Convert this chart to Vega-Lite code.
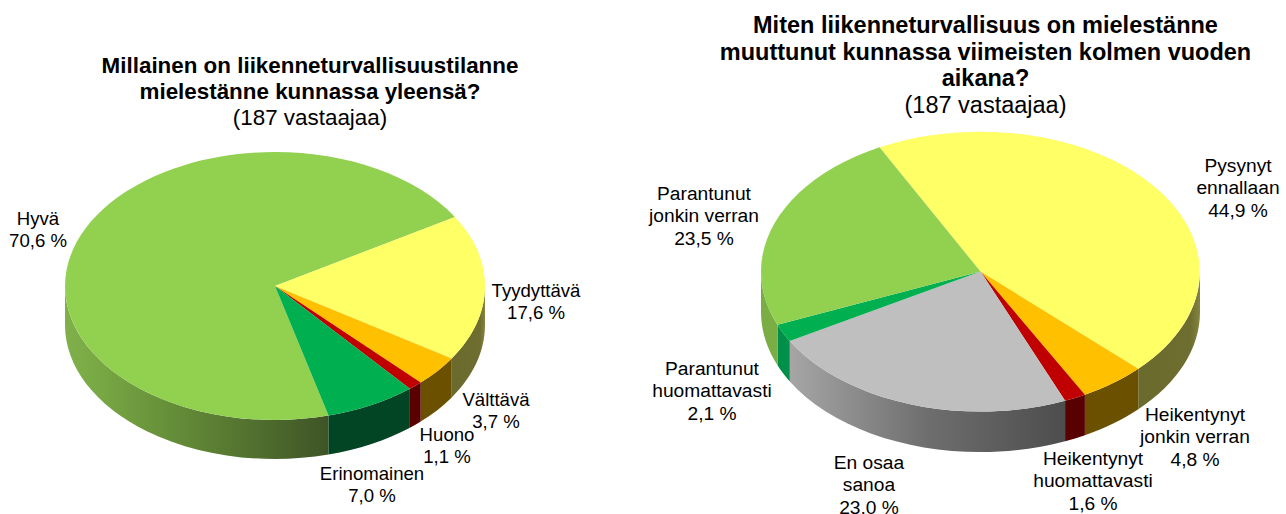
{
"$schema":"https://vega.github.io/schema/vega-lite/v6.json",
"width":1286,"height":514,"padding":0,"autosize":{"type":"none"},
"background":"white",
"view":{"stroke":null},
"config":{"text":{"font":"Liberation Sans"}},
"datasets":{
"slices":[
{"chart":"A","label":"Hyvä","value":70.6,"caption":"Hyvä\n70,6 %"},
{"chart":"A","label":"Tyydyttävä","value":17.6,"caption":"Tyydyttävä\n17,6 %"},
{"chart":"A","label":"Välttävä","value":3.7,"caption":"Välttävä\n3,7 %"},
{"chart":"A","label":"Huono","value":1.1,"caption":"Huono\n1,1 %"},
{"chart":"A","label":"Erinomainen","value":7.0,"caption":"Erinomainen\n7,0 %"},
{"chart":"B","label":"Pysynyt ennallaan","value":44.9,"caption":"Pysynyt\nennallaan\n44,9 %"},
{"chart":"B","label":"Heikentynyt jonkin verran","value":4.8,"caption":"Heikentynyt\njonkin verran\n4,8 %"},
{"chart":"B","label":"Heikentynyt huomattavasti","value":1.6,"caption":"Heikentynyt\nhuomattavasti\n1,6 %"},
{"chart":"B","label":"En osaa sanoa","value":23.0,"caption":"En osaa\nsanoa\n23,0 %"},
{"chart":"B","label":"Parantunut huomattavasti","value":2.1,"caption":"Parantunut\nhuomattavasti\n2,1 %"},
{"chart":"B","label":"Parantunut jonkin verran","value":23.5,"caption":"Parantunut\njonkin verran\n23,5 %"}
],
"titles":[
{"chart":"A","line":1,"text":"Millainen on liikenneturvallisuustilanne","weight":"bold"},
{"chart":"A","line":2,"text":"mielestänne kunnassa yleensä?","weight":"bold"},
{"chart":"A","line":3,"text":"(187 vastaajaa)","weight":"normal"},
{"chart":"B","line":4,"text":"Miten liikenneturvallisuus on mielestänne","weight":"bold"},
{"chart":"B","line":5,"text":"muuttunut kunnassa viimeisten kolmen vuoden","weight":"bold"},
{"chart":"B","line":6,"text":"aikana?","weight":"bold"},
{"chart":"B","line":7,"text":"(187 vastaajaa)","weight":"normal"}
]
},
"resolve":{"scale":{"x":"independent","y":"independent","shape":"independent","fill":"independent","size":"independent"}},
"layer":[
{
"data":{"name":"slices"},
"encoding":{
"x":{"field":"chart","type":"nominal","axis":null,"scale":{"domain":["A","B"],"range":[275,980.5],"padding":0}},
"y":{"field":"chart","type":"nominal","axis":null,"scale":{"domain":["A","B"],"range":[286,271.5],"padding":0}},
"shape":{"field":"label","type":"nominal","legend":null,"scale":{
"domain":["Hyvä","Tyydyttävä","Välttävä","Huono","Erinomainen","Pysynyt ennallaan","Heikentynyt jonkin verran","Heikentynyt huomattavasti","En osaa sanoa","Parantunut huomattavasti","Parantunut jonkin verran"],
"range":[
"M53.5 129.6A210 134 0 0 1 -210 0L-210 39A210 134 0 0 0 53.5 168.6Z",
"M210 0A210 134 0 0 1 176.7 72.4L176.7 111.4A210 134 0 0 0 210 39Z",
"M176.7 72.4A210 134 0 0 1 145.7 96.5L145.7 135.5A210 134 0 0 0 176.7 111.4Z",
"M145.7 96.5A210 134 0 0 1 134.9 102.7L134.9 141.7A210 134 0 0 0 145.7 135.5Z",
"M134.9 102.7A210 134 0 0 1 53.5 129.6L53.5 168.6A210 134 0 0 0 134.9 141.7Z",
"M219.5 0A219.5 140 0 0 1 157.8 97.3L157.8 137.8A219.5 140 0 0 0 219.5 40.5Z",
"M157.8 97.3A219.5 140 0 0 1 104.4 123.2L104.4 163.7A219.5 140 0 0 0 157.8 137.8Z",
"M104.4 123.2A219.5 140 0 0 1 84.6 129.2L84.6 169.7A219.5 140 0 0 0 104.4 163.7Z",
"M84.6 129.2A219.5 140 0 0 1 -190.7 69.4L-190.7 109.9A219.5 140 0 0 0 84.6 169.7Z",
"M-190.7 69.4A219.5 140 0 0 1 -203 53.2L-203 93.7A219.5 140 0 0 0 -190.7 109.9Z",
"M-203 53.2A219.5 140 0 0 1 -219.5 0L-219.5 40.5A219.5 140 0 0 0 -203 93.7Z"
]}}
},
"layer":[
{"transform":[{"filter":"datum.label==='Hyvä'"}],
"mark":{"type":"point","filled":true,"opacity":1,"strokeWidth":0,"size":4,"fill":{"gradient":"linear","x1":1,"x2":0,"y1":0,"y2":0,"stops":[{"offset":0,"color":"#3F5426"},{"offset":0.5,"color":"#5F8535"},{"offset":0.9,"color":"#7AAA45"},{"offset":1,"color":"#7FB04A"}]}}},
{"transform":[{"filter":"datum.label==='Tyydyttävä'||datum.label==='Pysynyt ennallaan'"}],
"mark":{"type":"point","filled":true,"opacity":1,"strokeWidth":0,"size":4,"fill":{"gradient":"linear","x1":0,"x2":1,"y1":0,"y2":0,"stops":[{"offset":0,"color":"#6A6A2C"},{"offset":0.85,"color":"#6E6E30"},{"offset":1,"color":"#85853F"}]}}},
{"transform":[{"filter":"datum.label==='En osaa sanoa'"}],
"mark":{"type":"point","filled":true,"opacity":1,"strokeWidth":0,"size":4,"fill":{"gradient":"linear","x1":0,"x2":1,"y1":0,"y2":0,"stops":[{"offset":0,"color":"#A6A6A6"},{"offset":0.5,"color":"#6E6E6E"},{"offset":1,"color":"#4D4D4D"}]}}},
{"transform":[{"filter":"datum.label==='Välttävä'||datum.label==='Heikentynyt jonkin verran'"}],
"mark":{"type":"point","filled":true,"opacity":1,"strokeWidth":0,"size":4,"fill":"#6B5000"}},
{"transform":[{"filter":"datum.label==='Huono'||datum.label==='Heikentynyt huomattavasti'"}],
"mark":{"type":"point","filled":true,"opacity":1,"strokeWidth":0,"size":4,"fill":"#590000"}},
{"transform":[{"filter":"datum.label==='Erinomainen'"}],
"mark":{"type":"point","filled":true,"opacity":1,"strokeWidth":0,"size":4,"fill":"#024525"}},
{"transform":[{"filter":"datum.label==='Parantunut huomattavasti'"}],
"mark":{"type":"point","filled":true,"opacity":1,"strokeWidth":0,"size":4,"fill":"#00904A"}},
{"transform":[{"filter":"datum.label==='Parantunut jonkin verran'"}],
"mark":{"type":"point","filled":true,"opacity":1,"strokeWidth":0,"size":4,"fill":"#7AAE45"}}
]
},
{
"data":{"name":"slices"},
"mark":{"type":"point","filled":true,"opacity":1,"strokeWidth":0,"size":4},
"encoding":{
"x":{"field":"chart","type":"nominal","axis":null,"scale":{"domain":["A","B"],"range":[275,980.5],"padding":0}},
"y":{"field":"chart","type":"nominal","axis":null,"scale":{"domain":["A","B"],"range":[286,271.5],"padding":0}},
"shape":{"field":"label","type":"nominal","legend":null,"scale":{
"domain":["Hyvä","Tyydyttävä","Välttävä","Huono","Erinomainen","Pysynyt ennallaan","Heikentynyt jonkin verran","Heikentynyt huomattavasti","En osaa sanoa","Parantunut huomattavasti","Parantunut jonkin verran"],
"range":[
"M0 0L53.5 129.6A210 134 0 1 1 180 -69.1Z",
"M0 0L180 -69.1A210 134 0 0 1 176.7 72.4Z",
"M0 0L176.7 72.4A210 134 0 0 1 145.7 96.5Z",
"M0 0L145.7 96.5A210 134 0 0 1 134.9 102.7Z",
"M0 0L134.9 102.7A210 134 0 0 1 53.5 129.6Z",
"M0 0L-101 -124.2A219.5 140 0 0 1 157.8 97.3Z",
"M0 0L157.8 97.3A219.5 140 0 0 1 104.4 123.2Z",
"M0 0L104.4 123.2A219.5 140 0 0 1 84.6 129.2Z",
"M0 0L84.6 129.2A219.5 140 0 0 1 -190.7 69.4Z",
"M0 0L-190.7 69.4A219.5 140 0 0 1 -203 53.2Z",
"M0 0L-203 53.2A219.5 140 0 0 1 -101 -124.2Z"
]}},
"fill":{"field":"label","type":"nominal","legend":null,"scale":{
"domain":["Hyvä","Tyydyttävä","Välttävä","Huono","Erinomainen","Pysynyt ennallaan","Heikentynyt jonkin verran","Heikentynyt huomattavasti","En osaa sanoa","Parantunut huomattavasti","Parantunut jonkin verran"],
"range":["#92D050","#FFFF66","#FFC000","#C00000","#00B050","#FFFF66","#FFC000","#C00000","#BFBFBF","#00B050","#92D050"]}}
}
},
{
"data":{"name":"slices"},
"mark":{"type":"text","lineHeight":22.3,"lineBreak":"\n","align":"center","baseline":"middle","color":"#000000"},
"encoding":{
"text":{"field":"caption"},
"size":{"field":"chart","type":"nominal","legend":null,"scale":{"domain":["A","B"],"range":[18.6,19.2]}},
"x":{"field":"value","type":"quantitative","axis":null,"scale":{"zero":false,"nice":false,
"domain":[1.1,1.6,2.1,3.7,4.8,7.0,17.6,23.0,23.5,44.9,70.6],
"range":[447,1093,712,496,1195,372,536,869,704,1238,38]}},
"y":{"field":"value","type":"quantitative","axis":null,"scale":{"zero":false,"nice":false,
"domain":[1.1,1.6,2.1,3.7,4.8,7.0,17.6,23.0,23.5,44.9,70.6],
"range":[435,459,369,400,415,474,291,463,194,166,219]}}
}
},
{
"data":{"name":"titles"},
"encoding":{
"text":{"field":"text"},
"size":{"field":"chart","type":"nominal","legend":null,"scale":{"domain":["A","B"],"range":[22.4,23.5]}},
"x":{"field":"chart","type":"nominal","axis":null,"scale":{"domain":["A","B"],"range":[310,985.5],"padding":0}},
"y":{"field":"line","type":"quantitative","axis":null,"scale":{"zero":false,"nice":false,"domain":[1,2,3,4,5,6,7],"range":[66,92,118,26,53,79,106]}}
},
"layer":[
{"transform":[{"filter":"datum.weight==='bold'"}],
"mark":{"type":"text","font":"Liberation Sans","fontWeight":"bold","align":"center","baseline":"middle","color":"#000000"}},
{"transform":[{"filter":"datum.weight==='normal'"}],
"mark":{"type":"text","font":"Liberation Sans","fontWeight":"normal","align":"center","baseline":"middle","color":"#000000"}}
]
}
]
}
